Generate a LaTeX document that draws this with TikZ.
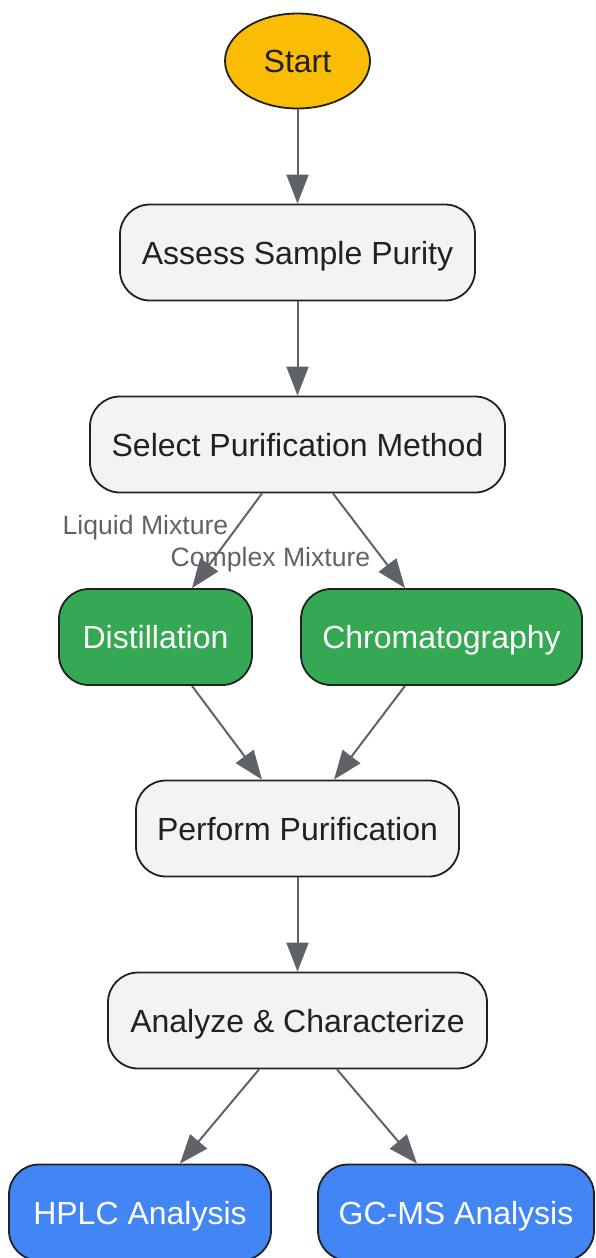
\documentclass[tikz,border=0pt]{standalone}
\usepackage{fontspec}
\setmainfont{Liberation Sans}
\usetikzlibrary{arrows.meta,shapes.geometric}

\definecolor{startfill}{HTML}{FBBC04}
\definecolor{stepfill}{HTML}{F1F3F4}
\definecolor{methodfill}{HTML}{34A853}
\definecolor{testfill}{HTML}{4285F4}
\definecolor{edgegray}{HTML}{5F6368}
\definecolor{darktext}{HTML}{202124}

\begin{document}
\begin{tikzpicture}[x=1pt,y=-1pt,
  every node/.style={font=\fontsize{32}{38}\selectfont, text=darktext, inner sep=0pt, text height=23pt, text depth=0pt},
  box/.style={draw=darktext, line width=1.8pt, rounded corners=30pt, minimum height=96pt},
  stepbox/.style={box, fill=stepfill},
  methodbox/.style={box, fill=methodfill, text=white},
  testbox/.style={box, fill=testfill, text=white},
  edgelabel/.style={font=\fontsize{26.6}{32}\selectfont, text=edgegray, text height=19pt},
  link/.style={draw=edgegray, line width=2pt, -{Triangle[length=29pt,width=22pt]}}]
\useasboundingbox (0,0) rectangle (595,1258);
% nodes
\node [ellipse, draw=darktext, line width=1.8pt, fill=startfill, minimum width=145pt, minimum height=95pt] (start) at (297.5,61) {Start};
\node [stepbox, minimum width=355pt] (assess) at (297.5,252.5) {Assess Sample Purity};
\node [stepbox, minimum width=415pt] (select) at (297.5,444.5) {Select Purification Method};
\node [methodbox, minimum width=193pt] (dist) at (155.5,637) {Distillation};
\node [methodbox, minimum width=281pt] (chrom) at (441.5,637) {Chromatography};
\node [stepbox, minimum width=323pt] (perform) at (297.5,828.5) {Perform Purification};
\node [stepbox, minimum width=379pt] (analyze) at (297.5,1020.5) {Analyze \& Characterize};
\node [testbox, minimum width=262pt] (hplc) at (140,1212.5) {HPLC Analysis};
\node [testbox, minimum width=276pt] (gcms) at (456,1212.5) {GC-MS Analysis};
% edges
\draw [link] (start) -- (assess);
\draw [link] (assess) -- (select);
\draw [link] ([xshift=-35.5pt]select.south) -- ([xshift=36.5pt]dist.north);
\draw [link] ([xshift=35.5pt]select.south) -- ([xshift=-36.5pt]chrom.north);
\draw [link] ([xshift=36.5pt]dist.south) -- ([xshift=-35.5pt]perform.north);
\draw [link] ([xshift=-36.5pt]chrom.south) -- ([xshift=36.5pt]perform.north);
\draw [link] (perform) -- (analyze);
\draw [link] ([xshift=-38.5pt]analyze.south) -- ([xshift=40pt]hplc.north);
\draw [link] ([xshift=39.5pt]analyze.south) -- ([xshift=-39pt]gcms.north);
% edge labels
\node [edgelabel] (liquid) at (145.5,525) {Liquid Mixture};
\node [edgelabel] (complex) at (270.5,557) {Complex Mixture};
\end{tikzpicture}
\end{document}
